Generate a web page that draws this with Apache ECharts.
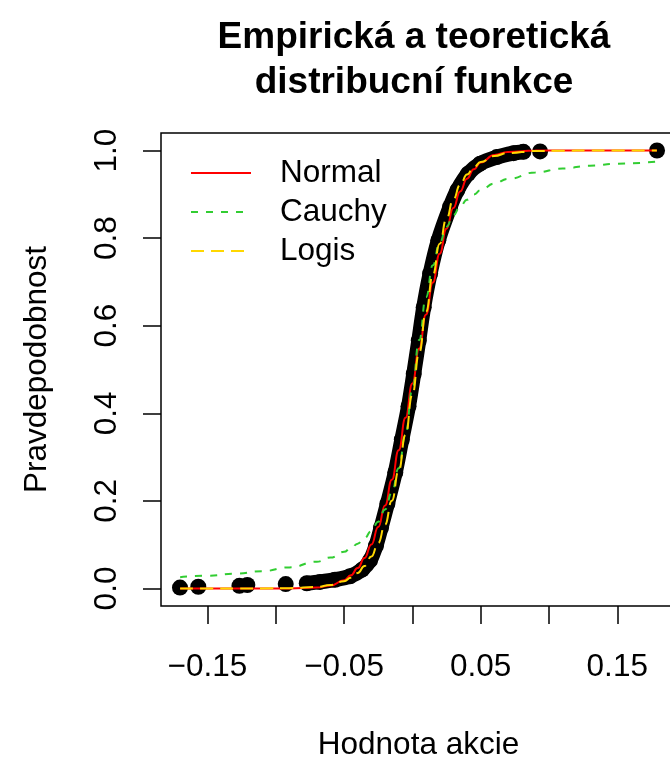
<!DOCTYPE html>
<html>
<head>
<meta charset="utf-8">
<script src="https://cdn.jsdelivr.net/npm/echarts@6/dist/echarts.min.js"></script>
<style>html,body{margin:0;padding:0;background:#fff;}#c{width:670px;height:758px;}</style>
</head>
<body>
<div id="c"></div>
<script>
// ---- data ----
const titleText = 'Empirická a teoretická\ndistribucní funkce';
const xTitle = 'Hodnota akcie';
const yTitle = 'Pravdepodobnost';
const seriesNames = ['Normal', 'Cauchy', 'Logis'];

const xTicks = [-0.15, -0.10, -0.05, 0, 0.05, 0.10, 0.15];
const xTickLabels = [-0.15, -0.05, 0.05, 0.15];
const yTicks = [0, 0.2, 0.4, 0.6, 0.8, 1.0];

// empirical distribution (points)
const ecdfX = [-0.1701, -0.1567, -0.1266, -0.1208, -0.0927, -0.0773, -0.0676, -0.0566, -0.0456, -0.0368, -0.0310, -0.0266, -0.0229, -0.0183, -0.0125, -0.0077, -0.0028, 0.0010, 0.0047, 0.0083, 0.0130, 0.0190, 0.0276, 0.0329, 0.0408, 0.0496, 0.0618, 0.0740, 0.0813, 0.0935, 0.1791];
const ecdfY = [0.002, 0.004, 0.006, 0.008, 0.010, 0.012, 0.015, 0.020, 0.028, 0.043, 0.064, 0.098, 0.139, 0.193, 0.265, 0.340, 0.416, 0.490, 0.566, 0.642, 0.719, 0.795, 0.871, 0.909, 0.947, 0.970, 0.985, 0.994, 0.997, 0.998, 1.000];

// theoretical curves
const curveX = [-0.17, -0.15, -0.13, -0.11, -0.09, -0.07, -0.06, -0.05, -0.045, -0.04, -0.035, -0.03, -0.025, -0.02, -0.015, -0.01, -0.005, 0, 0.005, 0.01, 0.015, 0.02, 0.025, 0.03, 0.035, 0.04, 0.045, 0.05, 0.06, 0.07, 0.09, 0.11, 0.13, 0.15, 0.179];
const normalY = [0, 0, 0, 0, 0.0001, 0.002, 0.0066, 0.0188, 0.0301, 0.0465, 0.0694, 0.1003, 0.1401, 0.1894, 0.2483, 0.3156, 0.3897, 0.4681, 0.5478, 0.6255, 0.6985, 0.7642, 0.8212, 0.8686, 0.9066, 0.9357, 0.9573, 0.9726, 0.9898, 0.9967, 0.9998, 1, 1, 1, 1];
const cauchyY = [0.0259, 0.0292, 0.0336, 0.0396, 0.0481, 0.0612, 0.0706, 0.0836, 0.0921, 0.1024, 0.1152, 0.1312, 0.1522, 0.1804, 0.2193, 0.2744, 0.3524, 0.4548, 0.5672, 0.6652, 0.7383, 0.7896, 0.8260, 0.8524, 0.8723, 0.8876, 0.8998, 0.9096, 0.9246, 0.9354, 0.9498, 0.9590, 0.9653, 0.9700, 0.9749];
const logisY = [0, 0, 0, 0.0002, 0.0008, 0.0036, 0.0078, 0.0166, 0.0244, 0.0353, 0.0512, 0.0730, 0.1040, 0.1456, 0.2003, 0.2689, 0.3509, 0.4427, 0.5384, 0.6314, 0.7157, 0.7872, 0.8445, 0.8886, 0.9214, 0.9451, 0.9620, 0.9738, 0.9877, 0.9943, 0.9988, 0.9997, 0.9999, 1, 1];

// ---- build chart ----
const FONT = '"Liberation Sans", Arial, Helvetica, sans-serif';
const FS = 31.5;
const pairs = (xs, ys) => xs.map((x, i) => [x, ys[i]]);
const ecdfPts = pairs(ecdfX, ecdfY);
const bandPts = ecdfPts.filter(p => p[0] > -0.08 && p[0] < 0.085);
const fmtX = v => (v < 0 ? '\u2212' : '') + Math.abs(v).toFixed(2);

const chart = echarts.init(document.getElementById('c'), null, { renderer: 'canvas' });
chart.setOption({
  animation: false,
  backgroundColor: '#ffffff',
  graphic: [{
    type: 'text', x: 414, y: 15,
    style: { text: titleText, font: 'bold 37px ' + FONT, fill: '#000', textAlign: 'center', lineHeight: 45 }
  }],
  grid: { left: 161, top: 133, right: -6, bottom: 152, outerBoundsMode: 'none', containLabel: false,
          show: true, borderColor: '#000', borderWidth: 1.5, backgroundColor: 'transparent' },
  legend: {
    orient: 'vertical', left: 190, top: 157, padding: 0,
    itemWidth: 60, itemHeight: 4, itemGap: 7,
    data: seriesNames,
    itemStyle: { opacity: 0 },
    textStyle: { fontFamily: FONT, fontSize: FS, color: '#000', lineHeight: 32, padding: [0, 0, 0, 24] }
  },
  xAxis: {
    type: 'value', min: -0.184, max: 0.193,
    name: xTitle, nameLocation: 'middle', nameGap: 123,
    nameTextStyle: { fontFamily: FONT, fontSize: FS, color: '#000' },
    splitLine: { show: false },
    axisLine: { show: false, onZero: false },
    axisTick: { show: true, customValues: xTicks, length: 18, inside: false, lineStyle: { color: '#000', width: 1.5 } },
    axisLabel: { customValues: xTickLabels, margin: 45, fontFamily: FONT, fontSize: FS, color: '#000', formatter: fmtX }
  },
  yAxis: {
    type: 'value', min: -0.04, max: 1.04,
    name: yTitle, nameLocation: 'middle', nameGap: 108,
    nameTextStyle: { fontFamily: FONT, fontSize: FS, color: '#000' },
    splitLine: { show: false },
    axisLine: { show: false, onZero: false },
    axisTick: { show: true, customValues: yTicks, length: 18, inside: false, lineStyle: { color: '#000', width: 1.5 } },
    axisLabel: { customValues: yTicks, rotate: 90, margin: 38, fontFamily: FONT, fontSize: FS, color: '#000', formatter: v => v.toFixed(1) }
  },
  series: [
    { name: 'ECDF band', type: 'line', data: bandPts, symbol: 'none', smooth: 0.3, z: 1,
      lineStyle: { color: '#000', width: 15, cap: 'round', join: 'round' } },
    { name: 'ECDF', type: 'scatter', data: ecdfPts, symbol: 'circle', symbolSize: 16, z: 2,
      itemStyle: { color: '#000', opacity: 1 } },
    { name: 'Normal', type: 'line', data: pairs(curveX, normalY), symbol: 'none', smooth: true, smoothMonotone: 'x', z: 3,
      lineStyle: { color: '#ff0000', width: 2 }, itemStyle: { color: '#ff0000' } },
    { name: 'Cauchy', type: 'line', data: pairs(curveX, cauchyY), symbol: 'none', smooth: true, smoothMonotone: 'x', z: 4,
      lineStyle: { color: '#32cd32', width: 2, type: [7, 8] }, itemStyle: { color: '#32cd32' } },
    { name: 'Logis', type: 'line', data: pairs(curveX, logisY), symbol: 'none', smooth: true, smoothMonotone: 'x', z: 5,
      lineStyle: { color: '#ffd700', width: 2, type: [13, 7] }, itemStyle: { color: '#ffd700' } }
  ]
});
</script>
</body>
</html>
